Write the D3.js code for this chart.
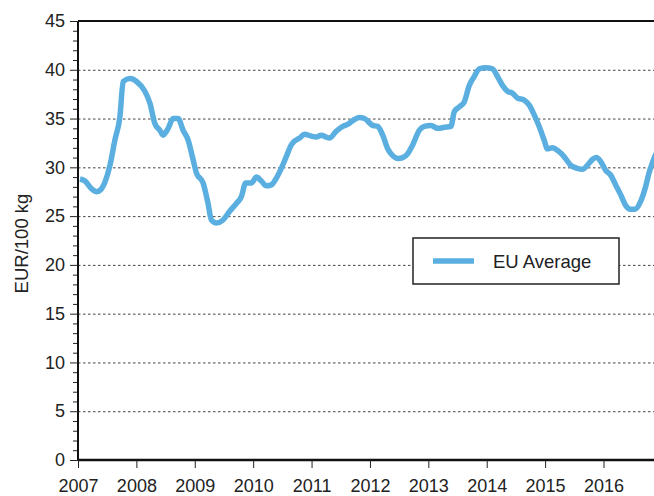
<!DOCTYPE html>
<html>
<head>
<meta charset="utf-8">
<script src="https://cdn.jsdelivr.net/npm/d3@7"></script>
<style>
  body { margin: 0; background: #fff; }
  svg { display: block; font-family: "Liberation Sans", Arial, sans-serif; }
</style>
</head>
<body>
<div id="graphic"></div>
<script>
// Data (decimal year, EUR/100 kg)
var years = [2007.034, 2007.12, 2007.234, 2007.32, 2007.388, 2007.462, 2007.547, 2007.632, 2007.718, 2007.774,
    2007.889, 2008.003, 2008.145, 2008.231, 2008.316, 2008.402, 2008.458, 2008.544, 2008.629, 2008.715,
    2008.8, 2008.886, 2008.971, 2009.029, 2009.142, 2009.227, 2009.285, 2009.371, 2009.484, 2009.598,
    2009.713, 2009.798, 2009.872, 2009.969, 2010.055, 2010.14, 2010.226, 2010.311, 2010.397, 2010.482,
    2010.568, 2010.653, 2010.709, 2010.795, 2010.88, 2010.995, 2011.08, 2011.166, 2011.251, 2011.308,
    2011.422, 2011.535, 2011.621, 2011.735, 2011.821, 2011.906, 2012.048, 2012.133, 2012.219, 2012.304,
    2012.39, 2012.475, 2012.561, 2012.646, 2012.732, 2012.846, 2012.932, 2013.046, 2013.159, 2013.274,
    2013.388, 2013.444, 2013.53, 2013.615, 2013.701, 2013.786, 2013.872, 2013.986, 2014.099, 2014.185,
    2014.27, 2014.356, 2014.441, 2014.527, 2014.641, 2014.726, 2014.812, 2014.897, 2014.983, 2015.039,
    2015.125, 2015.239, 2015.325, 2015.439, 2015.552, 2015.638, 2015.723, 2015.809, 2015.877, 2015.952,
    2016.038, 2016.123, 2016.209, 2016.294, 2016.379, 2016.465, 2016.538, 2016.636, 2016.721, 2016.778,
    2016.846, 2016.9];
var euAverage = [28.8, 28.6, 27.8, 27.5, 27.7, 28.5, 30.2, 32.8, 35.2, 38.8,
    39.1, 38.8, 37.8, 36.6, 34.5, 33.8, 33.3, 34.0, 35.0, 35.0,
    33.8, 32.8, 30.8, 29.4, 28.4, 26.3, 24.6, 24.3, 24.6, 25.5,
    26.3, 27.0, 28.4, 28.4, 29.0, 28.6, 28.1, 28.2, 28.9, 29.9,
    31.1, 32.3, 32.7, 33.0, 33.4, 33.2, 33.1, 33.3, 33.1, 33.0,
    33.7, 34.2, 34.4, 34.9, 35.1, 35.0, 34.3, 34.2, 33.3, 31.9,
    31.2, 30.9, 31.0, 31.4, 32.3, 33.8, 34.2, 34.3, 34.0, 34.1,
    34.2, 35.7, 36.2, 36.7, 38.4, 39.3, 40.1, 40.2, 40.1, 39.3,
    38.4, 37.8, 37.6, 37.1, 36.9, 36.4, 35.4, 34.2, 32.8, 31.9,
    32.0, 31.6, 31.1, 30.2, 29.9, 29.8, 30.2, 30.8, 31.0, 30.6,
    29.7, 29.2, 28.2, 27.2, 26.1, 25.7, 25.7, 26.5, 28.0, 29.4,
    30.6, 31.4];
var yearTicks = [2007, 2008, 2009, 2010, 2011, 2012, 2013, 2014, 2015, 2016];
var yMajor = [0, 5, 10, 15, 20, 25, 30, 35, 40, 45];
var seriesName = 'EU Average';

var W = 654, H = 496;
var margin = {top: 21, right: 0, bottom: 36, left: 78};
var w = W - margin.left - margin.right;
var h = H - margin.top - margin.bottom;
var lineColor = '#5aafe0';
var fontSize = '18px';

var svg = d3.select('#graphic')
    .append('svg')
    .attr('width', W)
    .attr('height', H);

var g = svg.append('g')
    .attr('transform', 'translate(' + margin.left + ',' + margin.top + ')');

var xScale = d3.scaleLinear()
    .domain([2007, 2016.865])
    .range([0, w]);
var yScale = d3.scaleLinear()
    .domain([0, 45])
    .range([h, 0]);

// dashed grid lines
g.append('g')
    .selectAll('line')
    .data(yMajor.filter(function (d) { return d > 0 && d < 45; }))
    .enter()
    .append('line')
    .attr('x1', 0)
    .attr('x2', w)
    .attr('y1', function (d) { return yScale(d) + 0.5; })
    .attr('y2', function (d) { return yScale(d) + 0.5; })
    .attr('stroke', '#444')
    .attr('stroke-width', 1)
    .attr('stroke-dasharray', '2.5,2.5');

// top frame
g.append('line')
    .attr('x1', 0).attr('x2', w)
    .attr('y1', 0).attr('y2', 0)
    .attr('stroke', '#111')
    .attr('stroke-width', 2);

// minor y ticks
var yMinor = d3.range(0, 46, 1).filter(function (d) { return d % 5 !== 0; });
g.append('g')
    .selectAll('line')
    .data(yMinor)
    .enter()
    .append('line')
    .attr('x1', -5).attr('x2', 0)
    .attr('y1', function (d) { return yScale(d) + 0.5; })
    .attr('y2', function (d) { return yScale(d) + 0.5; })
    .attr('stroke', '#222')
    .attr('stroke-width', 1);

// Y-axis
var yAxis = d3.axisLeft(yScale)
    .tickValues(yMajor)
    .tickSize(8)
    .tickPadding(5);
var yG = g.append('g').call(yAxis);
yG.select('.domain').attr('stroke', '#111').attr('stroke-width', 2).attr('d', 'M0,0V' + h);
yG.selectAll('.tick line').attr('stroke', '#222');
yG.selectAll('.tick text')
    .attr('font-size', fontSize)
    .attr('fill', '#222')
    .attr('font-family', '"Liberation Sans", Arial, sans-serif');

// X-axis
var xAxis = d3.axisBottom(xScale)
    .tickValues(yearTicks)
    .tickFormat(d3.format('d'))
    .tickSize(8)
    .tickPadding(11);
var xG = g.append('g')
    .attr('transform', 'translate(0,' + h + ')')
    .call(xAxis);
xG.select('.domain').attr('stroke', '#111').attr('stroke-width', 2.5).attr('d', 'M0,0H' + w);
xG.selectAll('.tick line').attr('stroke', '#222');
xG.selectAll('.tick text')
    .attr('font-size', fontSize)
    .attr('fill', '#222')
    .attr('font-family', '"Liberation Sans", Arial, sans-serif');

// y-axis label
svg.append('text')
    .attr('transform', 'translate(28,' + (margin.top + h / 2 + 3) + ') rotate(-90)')
    .attr('text-anchor', 'middle')
    .attr('font-size', '18.5px')
    .attr('fill', '#222')
    .text('EUR/100 kg');

// clip the series at the plot area
svg.append('defs').append('clipPath')
    .attr('id', 'plot-clip')
    .append('rect')
    .attr('x', 0).attr('y', -10)
    .attr('width', w).attr('height', h + 20);

var line = d3.line()
    .x(function (d, i) { return xScale(years[i]); })
    .y(function (d) { return yScale(d); })
    .curve(d3.curveMonotoneX);

g.append('path')
    .datum(euAverage)
    .attr('clip-path', 'url(#plot-clip)')
    .attr('fill', 'none')
    .attr('stroke', lineColor)
    .attr('stroke-width', 5.5)
    .attr('stroke-linejoin', 'round')
    .attr('d', line);

// Legend
var legend = svg.append('g')
    .attr('transform', 'translate(413,238)');
legend.append('rect')
    .attr('width', 206)
    .attr('height', 46)
    .attr('fill', '#fff')
    .attr('stroke', '#222')
    .attr('stroke-width', 1.5);
legend.append('line')
    .attr('x1', 20).attr('x2', 61)
    .attr('y1', 23).attr('y2', 23)
    .attr('stroke', lineColor)
    .attr('stroke-width', 5.5);
legend.append('text')
    .attr('x', 80)
    .attr('y', 30)
    .attr('font-size', '18.5px')
    .attr('fill', '#222')
    .text(seriesName);
</script>
</body>
</html>
